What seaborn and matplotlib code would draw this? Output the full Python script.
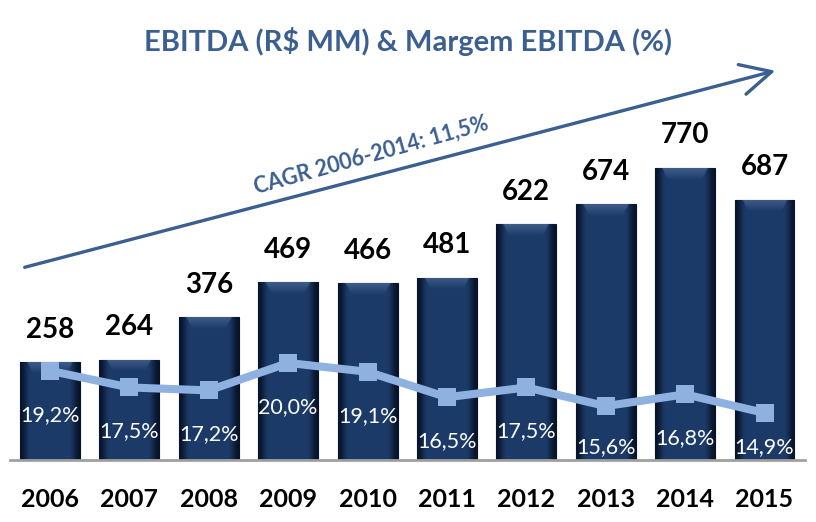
import numpy as np
import pandas as pd
import matplotlib
matplotlib.use("Agg")
import matplotlib.pyplot as plt
import seaborn as sns

# chart data
years = ["2006", "2007", "2008", "2009", "2010", "2011", "2012", "2013", "2014", "2015"]
ebitda = [258, 264, 376, 469, 466, 481, 622, 674, 770, 687]
margin = [19.2, 17.5, 17.2, 20.0, 19.1, 16.5, 17.5, 15.6, 16.8, 14.9]
title = "EBITDA (R$ MM) & Margem EBITDA (%)"
cagr_label = "CAGR 2006-2014: 11,5%"

BLUE = "#3b5f91"
BAR = "#1b3a68"
LINE = "#8eb1e0"

sns.set_theme(style="white")
plt.rcParams["font.family"] = ["Lato", "DejaVu Sans"]

df = pd.DataFrame({"year": years, "ebitda": ebitda, "margin": margin})

W, H = 816, 522
fig = plt.figure(figsize=(W / 100, H / 100), dpi=100)
ax = fig.add_axes([10 / W, 62 / H, 795 / W, 400 / H])

sns.barplot(data=df, x="year", y="ebitda", color=BAR, width=0.755,
            edgecolor="#06122a", linewidth=0.8, ax=ax, zorder=2)

# shade the bars a bit (dark edges, lighter bevel at the top)
cols = 64
t = np.linspace(0, 1, cols)
edge = np.clip(np.minimum(t, 1 - t) / 0.18, 0, 1)
edge = edge * edge * (3 - 2 * edge)
c_dark = np.array([0.03, 0.08, 0.17])
c_mid = np.array([0.11, 0.23, 0.41])
c_bev = np.array([0.36, 0.47, 0.64])
for p in list(ax.patches):
    x0, w, h = p.get_x(), p.get_width(), p.get_height()
    rows = 200
    bev = min(30.0 / h, 0.4)
    img = np.zeros((rows, cols, 3))
    for r in range(rows):
        frac = r / (rows - 1)  # 0 top -> 1 bottom
        base = c_dark + (c_mid - c_dark) * edge[:, None]
        if frac < bev:
            k = 1 - frac / bev
            inner = (t > 0.12 + 0.1 * (1 - k)) & (t < 0.88 - 0.1 * (1 - k))
            mix = np.where(inner, 0.55 * k, 0.0)[:, None]
            base = base + (c_bev - base) * mix
        img[r] = base
    im = ax.imshow(img, extent=[x0, x0 + w, 0, h], aspect="auto",
                   zorder=2.5, interpolation="bilinear")
    im.set_clip_path(p)

ax.set_xlim(-0.504, 9.51)
ax.set_ylim(0, 1055)
ax.set_aspect("auto")

for i, v in enumerate(ebitda):
    ax.annotate(str(v), (i, v), xytext=(0, 23.5), textcoords="offset points",
                ha="center", va="center", fontsize=20, fontweight="bold",
                color="black")

for s in ["top", "left", "right"]:
    ax.spines[s].set_visible(False)
ax.spines["bottom"].set_color("#a0a0a0")
ax.spines["bottom"].set_linewidth(2)
ax.spines["bottom"].set_zorder(5)
ax.set_yticks([])
ax.set_xlabel("")
ax.set_ylabel("")
ax.tick_params(axis="x", length=0, pad=20, labelsize=18)
for lab in ax.get_xticklabels():
    lab.set_fontweight("bold")
    lab.set_color("black")

# margin line on a second axis
ax2 = ax.twinx()
sns.lineplot(x=np.arange(len(years)), y=margin, ax=ax2, color=LINE,
             linewidth=5.8, marker="s", markersize=12.5, markeredgewidth=0,
             zorder=4)
y2_lo, y2_hi = 10.1, 50.9
ax2.set_ylim(y2_lo, y2_hi)
ax2.set_xlim(-0.504, 9.51)
ax2.set_yticks([])
ax2.set_ylabel("")
for s in ax2.spines.values():
    s.set_visible(False)

# labels sit ~44px under the marker, but never below the baseline
px_per_pct = 400 / (y2_hi - y2_lo)
for i, v in enumerate(margin):
    ylab = max(v - 44 / px_per_pct, y2_lo + 13 / px_per_pct)
    ax2.text(i, ylab, f"{v:.1f}%".replace(".", ","), ha="center",
             va="center", fontsize=15.5, color="white")

# title, growth arrow and CAGR note
fig.text(0.5, 1 - 42 / H, title, ha="center", va="center", fontsize=21,
         fontweight="bold", color=BLUE)
ax.annotate("", xy=(778, H - 70), xycoords="figure pixels",
            xytext=(22, H - 268), textcoords="figure pixels",
            arrowprops=dict(arrowstyle="->,head_length=1.1,head_width=0.55",
                            mutation_scale=20, color=BLUE, lw=2.4),
            annotation_clip=False)
fig.text(371 / W, 1 - 155 / H, cagr_label, ha="center", va="center",
         rotation=15.5, fontsize=15.5, fontweight="bold", color=BLUE)

fig.savefig("out.png", dpi=100)
